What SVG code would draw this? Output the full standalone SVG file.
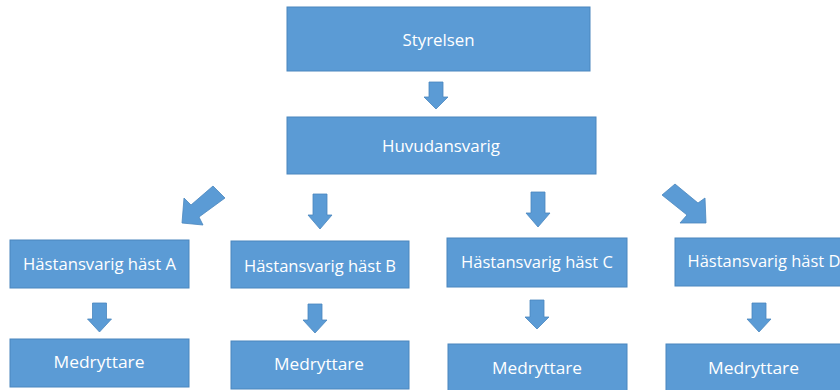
<svg xmlns="http://www.w3.org/2000/svg" width="840" height="390" viewBox="0 0 840 390">
<style>
.box{fill:#5B9BD5;stroke:#4A86BE;stroke-width:1}
.arr{fill:#5B9BD5;stroke:#4A86BE;stroke-width:0.8}
.t{font-family:"Open Sans","Liberation Sans",sans-serif;font-size:16px;fill:#FFFFFF;text-anchor:middle}
</style>
<rect width="840" height="390" fill="#FFFFFF"/>
<g id="connectors">
<polygon class="arr" points="429,82 443,82 443,97 448,97 436,109 424,97 429,97"/>
<polygon class="arr" points="213,186 225,198 199,217 203,225 182,223 184,198 191,205"/>
<polygon class="arr" points="313,194 327,194 327,215 332,215 320,229 308,215 313,215"/>
<polygon class="arr" points="531,192 545,192 545,213 550,213 538,227 526,213 531,213"/>
<polygon class="arr" points="662,195 675,184 698,203 705,198 706,223 680,223 687,215"/>
<polygon class="arr" points="92.5,303 106.5,303 106.5,319 111.5,319 99.5,332 87.5,319 92.5,319"/>
<polygon class="arr" points="308,304 322,304 322,320 327,320 315,333 303,320 308,320"/>
<polygon class="arr" points="530,300 544,300 544,317 549,317 537,329 525,317 530,317"/>
<polygon class="arr" points="752,303 766,303 766,319 771,319 759,332 747,319 752,319"/>
</g>
<g id="styrelsen"><rect class="box" x="287" y="7" width="303" height="64"/><text class="t" x="438.5" y="46" textLength="72" lengthAdjust="spacingAndGlyphs">Styrelsen</text></g>
<g id="huvudansvarig"><rect class="box" x="287" y="117" width="309" height="57"/><text class="t" x="441" y="152" textLength="118" lengthAdjust="spacingAndGlyphs">Huvudansvarig</text></g>
<g id="hast-a"><rect class="box" x="10" y="240" width="179" height="48"/><text class="t" x="99.5" y="270" textLength="153" lengthAdjust="spacingAndGlyphs">Hästansvarig häst A</text></g>
<g id="hast-b"><rect class="box" x="231" y="241" width="178" height="47"/><text class="t" x="320" y="272" textLength="152" lengthAdjust="spacingAndGlyphs">Hästansvarig häst B</text></g>
<g id="hast-c"><rect class="box" x="447" y="238" width="180" height="49"/><text class="t" x="537" y="268" textLength="152" lengthAdjust="spacingAndGlyphs">Hästansvarig häst C</text></g>
<g id="hast-d"><rect class="box" x="675" y="238" width="177" height="48"/><text class="t" x="764" y="267" textLength="153" lengthAdjust="spacingAndGlyphs">Hästansvarig häst D</text></g>
<g id="medryttare-a"><rect class="box" x="10" y="339" width="179" height="48"/><text class="t" x="99" y="368" textLength="91" lengthAdjust="spacingAndGlyphs">Medryttare</text></g>
<g id="medryttare-b"><rect class="box" x="231" y="341" width="178" height="48"/><text class="t" x="319" y="370" textLength="90" lengthAdjust="spacingAndGlyphs">Medryttare</text></g>
<g id="medryttare-c"><rect class="box" x="448" y="344" width="179" height="50"/><text class="t" x="537" y="374" textLength="90" lengthAdjust="spacingAndGlyphs">Medryttare</text></g>
<g id="medryttare-d"><rect class="box" x="666" y="344" width="176" height="50"/><text class="t" x="753.5" y="374" textLength="91" lengthAdjust="spacingAndGlyphs">Medryttare</text></g>
</svg>
